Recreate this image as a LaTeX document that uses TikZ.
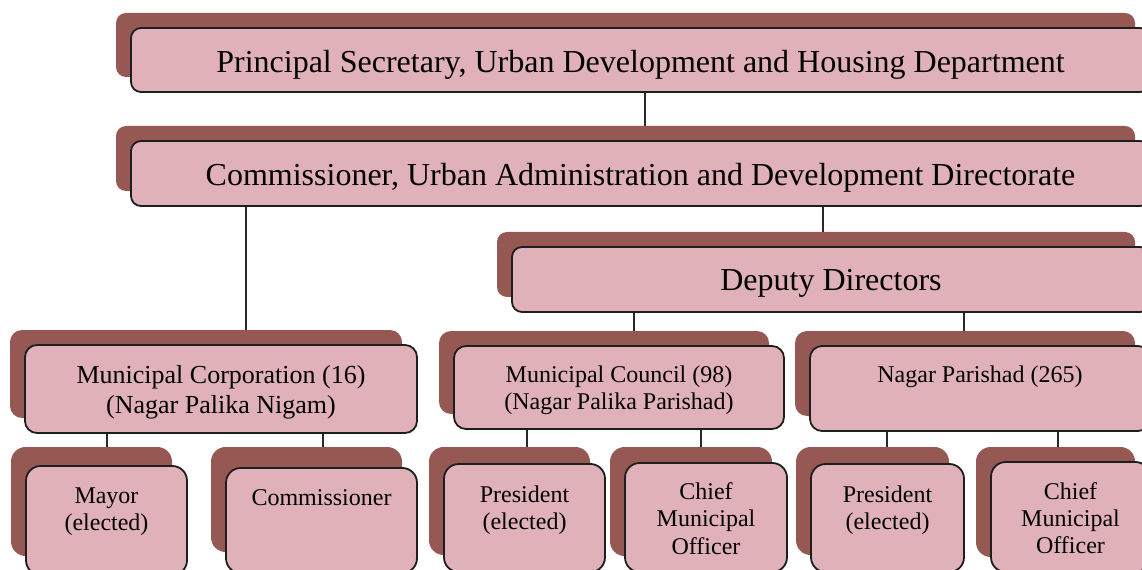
\documentclass[tikz,border=0pt]{standalone}
\usepackage{fontspec}
\setmainfont{Liberation Serif}
\usetikzlibrary{backgrounds}
\definecolor{frontc}{RGB}{224,177,184}
\definecolor{shadowc}{RGB}{150,88,82}
\definecolor{edgec}{RGB}{30,30,30}
\definecolor{linec}{RGB}{40,40,40}
\newlength\obw
\newlength\obh
\newcommand\fsbig{\fontsize{24}{28}\selectfont}
\newcommand\fsmc{\fontsize{19.5}{22.5}\selectfont}
\newcommand\fssm{\fontsize{18}{20.4}\selectfont}
% name, x1, y1, x2, y2, shadow dy, corner radius, content
\newcommand\orgbox[8]{%
  \pgfmathsetlength\obw{(#4-#2)*0.75pt}%
  \pgfmathsetlength\obh{(#5-#3)*0.75pt}%
  \fill[shadowc, rounded corners=#7] (#2-15,#3-#6) rectangle (#4-15,#5-#6);
  \node[frontbox, rounded corners=#7] (#1) at ({(#2+#4)/2},{(#3+#5)/2})
    {\begin{minipage}[c][\obh][t]{\obw}\centering #8\end{minipage}};%
}
\tikzset{
  frontbox/.style={draw=edgec, fill=frontc, line width=1.35pt, inner sep=0pt, outer sep=0pt},
  conn/.style={draw=linec, line width=1.1pt}
}
\begin{document}
\begin{tikzpicture}[x=0.75pt, y=-0.75pt]
\useasboundingbox (0,0) rectangle (1142,570);
\begin{scope}
\clip (0,0) rectangle (1142,570);
\orgbox{ps}{131}{28}{1150}{92}{15}{7.5pt}{\fsbig\rule{0pt}{33.5pt}Principal Secretary, Urban Development and Housing Department}
\orgbox{cm}{131}{141}{1150}{206}{15}{7.5pt}{\fsbig\rule{0pt}{33.5pt}Commissioner, Urban Administration and Development Directorate}
\orgbox{dd}{512}{247}{1150}{312}{15}{7.5pt}{\fsbig\rule{0pt}{33pt}Deputy Directors}
\orgbox{mc}{25}{345}{417}{433}{15}{9pt}{\fsmc\rule{0pt}{29pt}Municipal Corporation (16)\\(Nagar Palika Nigam)}
\orgbox{mcl}{454}{346}{784}{429}{15}{9pt}{\fssm\rule{0pt}{27.5pt}Municipal Council (98)\\(Nagar Palika Parishad)}
\orgbox{np}{810}{346}{1150}{431}{15}{9pt}{\fssm\rule{0pt}{27.5pt}Nagar Parishad (265)}
\orgbox{mayor}{26}{466}{187}{575}{19}{11pt}{\fssm\rule{0pt}{28pt}Mayor\\(elected)}
\orgbox{comm}{226}{468}{417}{573}{21}{11pt}{\fssm\rule{0pt}{28pt}Commissioner}
\orgbox{presa}{444}{464}{605}{572}{17}{11pt}{\fssm\rule{0pt}{28.5pt}President\\(elected)}
\orgbox{cmoa}{625}{463}{787}{572}{16}{11pt}{\fssm\rule{0pt}{27.5pt}Chief\\Municipal\\Officer}
\orgbox{presb}{811}{464}{964}{572}{17}{11pt}{\fssm\rule{0pt}{28.5pt}President\\(elected)}
\orgbox{cmob}{991}{462}{1150}{572}{15}{11pt}{\fssm\rule{0pt}{28pt}Chief\\Municipal\\Officer}
\end{scope}
\coordinate (k1) at (645,0);
\coordinate (k2) at (246,0);
\coordinate (k3) at (823,0);
\coordinate (k4) at (634,0);
\coordinate (k5) at (964,0);
\coordinate (k6) at (107,0);
\coordinate (k7) at (323,0);
\coordinate (k8) at (527,0);
\coordinate (k9) at (701,0);
\coordinate (k10) at (887,0);
\coordinate (k11) at (1058,0);
\begin{pgfonlayer}{background}
\draw[conn] (ps.south -| k1) -- (cm.north -| k1);
\draw[conn] (cm.south -| k2) -- (mc.north -| k2);
\draw[conn] (cm.south -| k3) -- (dd.north -| k3);
\draw[conn] (dd.south -| k4) -- (mcl.north -| k4);
\draw[conn] (dd.south -| k5) -- (np.north -| k5);
\draw[conn] (mc.south -| k6) -- (mayor.north -| k6);
\draw[conn] (mc.south -| k7) -- (comm.north -| k7);
\draw[conn] (mcl.south -| k8) -- (presa.north -| k8);
\draw[conn] (mcl.south -| k9) -- (cmoa.north -| k9);
\draw[conn] (np.south -| k10) -- (presb.north -| k10);
\draw[conn] (np.south -| k11) -- (cmob.north -| k11);
\end{pgfonlayer}
\end{tikzpicture}
\end{document}
